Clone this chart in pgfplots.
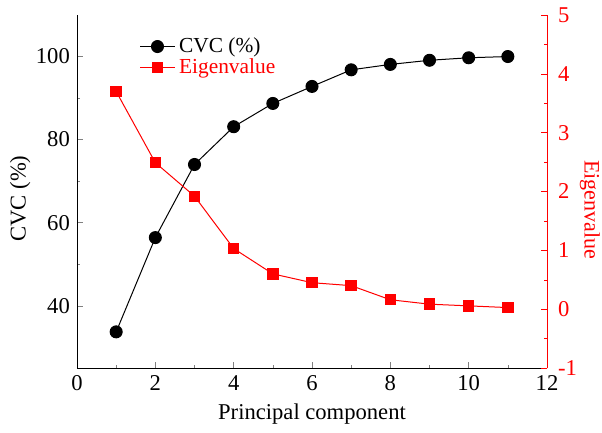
\documentclass[border=0pt]{standalone}
\usepackage{pgfplots}
\pgfplotsset{compat=1.18}
\usepackage{fontspec}
\setmainfont{Liberation Serif}
\begin{document}
\begin{tikzpicture}
\pgfplotsset{
    every axis/.append style={
        scale only axis,
        width=235pt,
        height=176.5pt,
        xmin=0, xmax=12,
        tick align=inside,
        major tick length=3pt,
        minor tick length=1.6pt,
        tick label style={font=\fontsize{11.3}{13}\selectfont},
        label style={font=\fontsize{11.3}{13}\selectfont},
        /pgf/number format/assume math mode=true,
        line width=0.5pt,
    },
}
\begin{axis}[
    axis x line*=bottom,
    axis y line*=left,
    ymin=25, ymax=110,
    xtick={0,2,...,12},
    minor x tick num=1,
    ytick={40,60,80,100},
    minor y tick num=1,
    xlabel={Principal component},
    ylabel={CVC (\%)},
    ylabel style={at={(axis description cs:-0.121,0.48)}, anchor=center},
    legend style={draw=none, fill=none, at={(0.12,0.96)}, anchor=north west,
        font=\fontsize{10.7}{12.5}\selectfont, row sep=-2.5pt},
    legend cell align=left,
]
\addplot[black, mark=*, mark size=3pt, line width=0.5pt] coordinates {
    (1,33.7) (2,56.4) (3,74.0) (4,83.1) (5,88.7) (6,92.8)
    (7,96.8) (8,98.1) (9,99.1) (10,99.7) (11,100.0)
};
\addlegendentry{CVC (\%)}
\addlegendimage{red, mark=square*, mark size=2.6pt, line width=0.5pt}
\addlegendentry{\textcolor{red}{Eigenvalue}}
\end{axis}
\begin{axis}[
    axis x line=none,
    axis y line*=right,
    ymin=-1, ymax=5,
    ytick={-1,0,...,5},
    minor y tick num=1,
    y axis line style={red},
    y tick style={red},
    yticklabel style={red, xshift=2pt},
    ylabel={Eigenvalue},
    ylabel style={red, at={(axis description cs:1.091,0.448)}, anchor=center,
        rotate=180, font=\fontsize{11}{13}\selectfont},
]
\addplot[red, mark=square*, mark size=2.6pt, line width=0.5pt] coordinates {
    (1,3.70) (2,2.49) (3,1.92) (4,1.03) (5,0.60) (6,0.45)
    (7,0.40) (8,0.16) (9,0.085) (10,0.056) (11,0.027)
};
\end{axis}
\pgfresetboundingbox
\path (current axis.south west) ++(-38.5pt,-32pt) coordinate (bl);
\path (current axis.north east) ++(27.5pt,7.5pt) coordinate (tr);
\useasboundingbox (bl) rectangle (tr);
\end{tikzpicture}
\end{document}
